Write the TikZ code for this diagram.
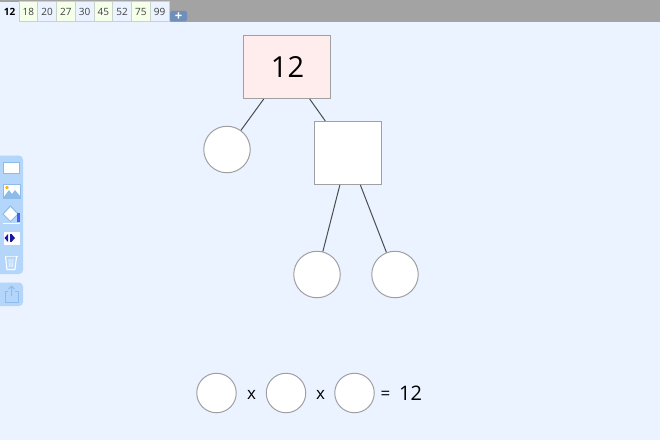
\documentclass[tikz,border=0pt]{standalone}
\usepackage{fontspec}
\setmainfont{Open Sans}
\definecolor{pagebg}{HTML}{EAF3FF}
\definecolor{barbg}{HTML}{A3A3A3}
\definecolor{rootbg}{HTML}{FFECEC}
\definecolor{edgegray}{HTML}{A0A0A0}
\definecolor{toolbg}{HTML}{B5D6FB}
\definecolor{toolblue}{HTML}{8DBBEA}
\definecolor{plusbg}{HTML}{6F8FBB}
\definecolor{tabgreen}{HTML}{F6FFEA}
\definecolor{tabblue}{HTML}{EAF3FF}
\definecolor{tabedge}{HTML}{C9D3C9}
\tikzset{
	sqbox/.style 2 args={draw=edgegray,line width=1pt,fill=#1,minimum width=#2,inner sep=0pt},
	disc/.style={circle,draw=edgegray,line width=1pt,fill=white,minimum size=46.5pt,inner sep=0pt},
	smalldisc/.style={circle,draw=edgegray,line width=1pt,fill=white,minimum size=39.5pt,inner sep=0pt},
	tab/.style={draw=tabedge,line width=0.6pt,fill=#1,minimum width=18.75pt,minimum height=20pt,inner sep=0pt,font=\fontsize{10pt}{10pt}\selectfont,text=black!75},
	eqtext/.style={inner sep=0pt,text=black,font=\fontsize{#1}{24pt}\selectfont},
	link/.style={draw=black!70,line width=1pt},
	toolicon/.style={draw=toolblue,fill=white,line width=1pt,line join=round}
}
\begin{document}
\begin{tikzpicture}[x=1pt,y=-1pt]
	\useasboundingbox (0,0) rectangle (660,440);
	\fill [pagebg] (0,0) rectangle (660,440);
	\fill [barbg] (0,0) rectangle (660,21.5);

	% tabs
	\node [minimum width=19pt,minimum height=20pt,inner sep=0pt,fill=pagebg,font=\fontsize{10pt}{10pt}\selectfont\bfseries] (tab12) at (9.5,11.5) {12};
	\foreach \val/\col [count=\i from 0] in {18/tabgreen,20/tabblue,27/tabgreen,30/tabblue,45/tabgreen,52/tabblue,75/tabgreen,99/tabblue}
		\node [tab=\col] (tab\val) at (28.4+18.75*\i,11.5) {\val};
	\node [fill=plusbg,rounded corners=1.5pt,minimum width=17pt,minimum height=10.5pt,inner sep=0pt,text=white,font=\bfseries\fontsize{13pt}{11pt}\selectfont] (tabplus) at (178.5,16.2) {+};

	% factor tree
	\node [sqbox={rootbg}{87pt},minimum height=63pt,font=\fontsize{29pt}{32pt}\selectfont] (root) at (287,67) {\hspace*{1pt}12};
	\node [disc] (leftleaf) at (227,149.5) {};
	\node [sqbox={white}{67.5pt},minimum height=63pt] (mid) at (348,153) {};
	\node [disc] (lowleft) at (317,274.5) {};
	\node [disc] (lowright) at (395,274.5) {};
	\draw [link] (root) -- (leftleaf);
	\draw [link] (root) -- (mid);
	\draw [link] (mid) -- (lowleft);
	\draw [link] (mid) -- (lowright);

	% equation
	\node [smalldisc] (ansa) at (216.5,393) {};
	\node [eqtext=17pt] (xa) at (251.5,395) {x};
	\node [smalldisc] (ansb) at (286,393) {};
	\node [eqtext=17pt] (xb) at (320.5,395) {x};
	\node [smalldisc] (ansc) at (354.5,393) {};
	\node [eqtext=17pt] (eq) at (385.5,395) {=};
	\node [eqtext=20pt] (total) at (410.5,393) {12};

	% toolbar
	\fill [toolbg,rounded corners=4pt] (-6,155.5) rectangle (23,274);
	\fill [toolbg,rounded corners=4pt] (-6,282.5) rectangle (23,306);
	\draw [toolicon] (3.5,162) rectangle (19,173.5);
	\draw [toolicon] (3,184) rectangle (20,198);
	\fill [toolblue] (3,198) -- (9,190) -- (12,194) -- (15,190) -- (20,196) -- (20,198) -- cycle;
	\fill [orange!60!yellow] (7,187.5) circle (1.8pt);
	\draw [toolicon,fill=white] (3,214) -- (10.5,206) -- (18,214) -- (10.5,221.5) -- cycle;
	\fill [blue!50!toolblue] (17,213) rectangle (20,222);
	\draw [white,line width=0.7pt] (3,223.5) -- (20,223.5);
	\draw [toolicon,draw=white] (4,232) rectangle (19,244);
	\fill [blue!60!black!90] (4.5,238) -- (8,234) -- (8,242) -- cycle;
	\fill [blue!60!black!90] (10,234) rectangle (11.5,242);
	\fill [blue!60!black!90] (15,238) -- (11.5,234) -- (11.5,242) -- cycle;
	\draw [toolicon,draw=white,fill=none,line width=1.2pt] (4.5,256.5) -- (17.5,256.5);
	\draw [toolicon,draw=white,fill=toolbg,line width=1.1pt] (5.5,256.5) -- (7,269.5) -- (15,269.5) -- (16.5,256.5);
	\draw [white,line width=0.7pt] (9,259) -- (9.3,267) (11,259) -- (11,267) (13,259) -- (12.7,267);
	\draw [toolicon,fill=none] (8,291) -- (5,291) -- (5,302) -- (18,302) -- (18,291) -- (15,291);
	\draw [toolicon,fill=none] (11.5,296) -- (11.5,286) (8.5,289) -- (11.5,286) -- (14.5,289);
\end{tikzpicture}
\end{document}
